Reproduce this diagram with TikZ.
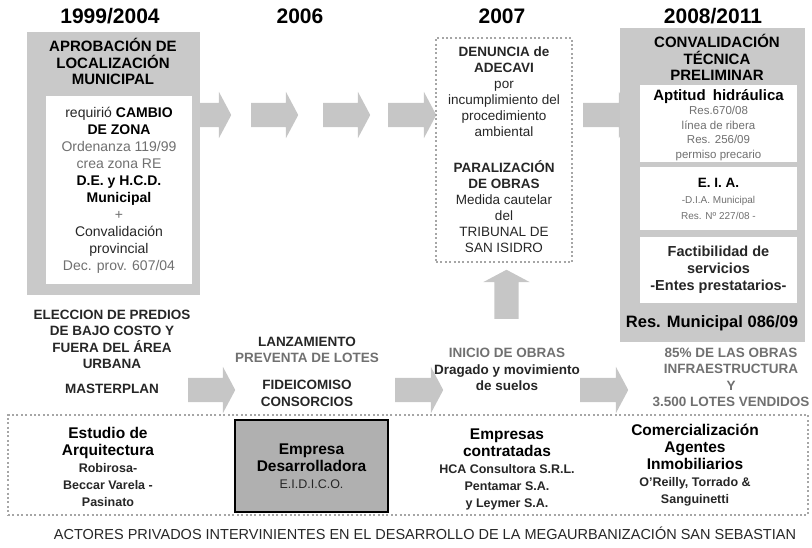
\documentclass[tikz,border=0pt]{standalone}
\usepackage{fontspec}
\setmainfont{Liberation Sans}
\usetikzlibrary{shapes.arrows}
\definecolor{boxgrey}{HTML}{C9C9C9}
\definecolor{arrowgrey}{HTML}{C6C6C6}
\definecolor{dotgrey}{HTML}{A6A6A6}
\definecolor{firmgrey}{HTML}{B0B0B0}
\definecolor{txtgrey}{HTML}{707070}
\definecolor{txtdark}{HTML}{262626}
\newcommand{\grtxt}[1]{\textcolor{txtgrey}{#1}}
\newcommand{\hdrtxt}[1]{{\fontsize{15.5}{17}\selectfont\bfseries\color{black}#1}}

\begin{document}
\begin{tikzpicture}[
  x=1pt, y=-1pt,
  greybox/.style={fill=boxgrey, inner sep=0pt},
  whitebox/.style={fill=white, inner sep=0pt, align=center, text=txtdark},
  dotbox/.style={draw=dotgrey, line width=2pt, dash pattern=on 2pt off 2.4pt, inner sep=0pt, align=center, text=txtdark},
  fatarrow/.style={single arrow, fill=arrowgrey, inner sep=0pt, text height=12pt, text depth=12pt, minimum width=46pt, single arrow head extend=11pt, single arrow tip angle=124},
  yearlabel/.style={font=\fontsize{21}{24}\selectfont\bfseries, text=black},
  boxtitle/.style={font=\fontsize{15}{16.5}\selectfont\bfseries, align=center, text=black},
  stage/.style={font=\fontsize{13.5}{16.5}\selectfont\bfseries, align=center, text=txtdark},
  actor/.style={font=\fontsize{12.5}{17}\selectfont\bfseries, align=center, text=txtdark}
]
  \useasboundingbox (0,0) rectangle (812,547);

  % Años
  \node[yearlabel] (y1) at (110,16) {1999/2004};
  \node[yearlabel] (y2) at (300,16) {2006};
  \node[yearlabel] (y3) at (502,16) {2007};
  \node[yearlabel] (y4) at (713,16) {2008/2011};

  % Flechas superiores
  \node[fatarrow, minimum height=38] (a1) at (209,115) {};
  \node[fatarrow, minimum height=47] (a2) at (271.5,115) {};
  \node[fatarrow, minimum height=47] (a3) at (343.5,115) {};
  \node[fatarrow, minimum height=48] (a4) at (409,115) {};
  \node[fatarrow, minimum height=48] (a5) at (604,115) {};
  \node[fatarrow, minimum height=49, rotate=90] (up) at (506.5,297.5) {};

  % Flechas inferiores
  \node[fatarrow, minimum height=47] (b1) at (208.5,390) {};
  \node[fatarrow, minimum height=48] (b2) at (416,390) {};
  \node[fatarrow, minimum height=48] (b3) at (601,390) {};

  % 1999/2004
  \node[greybox, minimum width=173, minimum height=263] (apro) at (113.5,163.5) {};
  \node[boxtitle] (aprotit) at (113,61.5) {APROBACIÓN DE\\LOCALIZACIÓN\\MUNICIPAL};
  \node[whitebox, minimum width=146, minimum height=188, font=\fontsize{14}{17}\selectfont] (zona) at (119,190) {requirió \textbf{\color{black}CAMBIO}\\\textbf{\color{black}DE ZONA}\\\grtxt{Ordenanza 119/99}\\\grtxt{crea zona RE}\\\textbf{\color{black}D.E. y H.C.D.}\\\textbf{\color{black}Municipal}\\\grtxt{+}\\Convalidación\\provincial\\\grtxt{Dec. prov. 607/04}};

  % 2007
  \node[dotbox, minimum width=136, minimum height=224, font=\fontsize{13.5}{16}\selectfont] (denuncia) at (504,150) {\textbf{DENUNCIA de}\\\textbf{ADECAVI}\\por\\incumplimiento del\\procedimiento\\ambiental\\[20pt]\textbf{PARALIZACIÓN}\\\textbf{DE OBRAS}\\Medida cautelar\\del\\TRIBUNAL DE\\SAN ISIDRO};

  % 2008/2011
  \node[greybox, minimum width=185, minimum height=314] (conv) at (712.5,185) {};
  \node[boxtitle] (convtit) at (717,57.5) {CONVALIDACIÓN\\TÉCNICA\\PRELIMINAR};
  \node[whitebox, minimum width=157, minimum height=77] (hidra) at (718.5,123.5) {};
  \node[whitebox, fill=none, font=\fontsize{11.5}{14.5}\selectfont] (hidratxt) at (718.5,125) {{\fontsize{15}{15}\selectfont\bfseries\color{black}Aptitud\hspace{3pt} hidráulica}\\\grtxt{Res.670/08}\\\grtxt{línea de ribera}\\\grtxt{Res. 256/09}\\\grtxt{permiso precario}};
  \node[whitebox, minimum width=157, minimum height=63, font=\fontsize{10}{16}\selectfont] (eia) at (718.5,198.5) {{\fontsize{13.5}{16}\selectfont\bfseries\color{black}E. I. A.}\\\grtxt{-D.I.A. Municipal}\\\grtxt{Res. Nº 227/08 -}};
  \node[whitebox, minimum width=157, minimum height=66, font=\fontsize{14.5}{17}\selectfont\bfseries] (fact) at (718.5,270) {Factibilidad de\\servicios\\-Entes prestatarios-};
  \node[font=\fontsize{16.5}{18}\selectfont\bfseries, text=black] (resmun) at (712,323) {Res. Municipal 086/09};

  % Etapas
  \node[stage] (elec) at (112,339.5) {ELECCION DE PREDIOS\\DE BAJO COSTO Y\\FUERA DEL ÁREA\\URBANA};
  \node[stage] (master) at (112,389) {MASTERPLAN};
  \node[stage] (lanz) at (307,350) {LANZAMIENTO\\\grtxt{PREVENTA DE LOTES}};
  \node[stage] (fide) at (307,393.5) {FIDEICOMISO\\CONSORCIOS};
  \node[stage] (inicio) at (507,369.5) {\grtxt{INICIO DE OBRAS}\\Dragado y movimiento\\de suelos};
  \node[stage, text=txtgrey] (obras) at (731,377.5) {85\% DE LAS OBRAS\\INFRAESTRUCTURA\\Y\\3.500 LOTES VENDIDOS};

  % Actores privados
  \node[dotbox, minimum width=800, minimum height=100] (actores) at (408,465) {};
  \node[actor] (estudio) at (108,467) {\hdrtxt{Estudio de}\\\hdrtxt{Arquitectura}\\Robirosa-\\Beccar Varela -\\Pasinato};
  \node[draw=black, line width=1.2pt, fill=firmgrey, minimum width=153, minimum height=92, align=center, font=\fontsize{12.5}{17}\selectfont, text=txtdark] (eidico) at (311.5,466) {\hdrtxt{Empresa}\\\hdrtxt{Desarrolladora}\\E.I.D.I.C.O.};
  \node[actor] (contrat) at (507,469.5) {\hdrtxt{Empresas}\\\hdrtxt{contratadas}\\HCA Consultora S.R.L.\\Pentamar S.A.\\y Leymer S.A.};
  \node[actor] (comerc) at (695,465) {\hdrtxt{Comercialización}\\\hdrtxt{Agentes}\\\hdrtxt{Inmobiliarios}\\O'Reilly, Torrado \&\\Sanguinetti};

  % Leyenda
  \node[font=\fontsize{14.5}{16}\selectfont, text=txtdark] (leyenda) at (425,533) {ACTORES PRIVADOS INTERVINIENTES EN EL DESARROLLO DE LA MEGAURBANIZACIÓN SAN SEBASTIAN};
\end{tikzpicture}
\end{document}
